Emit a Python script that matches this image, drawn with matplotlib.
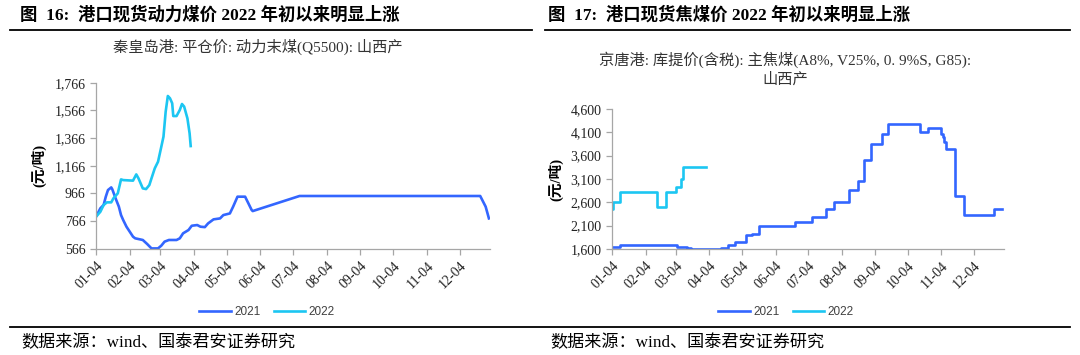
import matplotlib
matplotlib.use('Agg')
import matplotlib.pyplot as plt
import matplotlib.dates as mdates
from matplotlib.lines import Line2D
from matplotlib.ticker import FuncFormatter
import pandas as pd

plt.rcParams['font.family'] = ['Liberation Serif', 'Noto Sans CJK SC']

# 秦皇岛港 平仓价 动力末煤 Q5500 山西产 (元/吨)
qhd_dates_2021 = ['01-04', '01-08', '01-11', '01-13', '01-15', '01-18', '01-19', '01-22',
                  '01-25', '01-27', '01-29', '02-01', '02-04', '02-07', '02-09', '02-16',
                  '02-20', '02-24', '03-02', '03-05', '03-08', '03-12', '03-19', '03-22',
                  '03-25', '03-30', '04-02', '04-07', '04-10', '04-14', '04-17', '04-22',
                  '04-28', '05-01', '05-07', '05-10', '05-14', '05-21', '05-24', '05-27',
                  '05-28', '07-10', '12-23', '12-28', '12-31']
qhd_2021 = [797, 858, 882, 942, 990, 1009, 995, 930,
            870, 809, 773, 725, 689, 653, 641, 629,
            600, 568, 568, 588, 617, 629, 629, 641,
            677, 701, 732, 737, 725, 722, 749, 778,
            785, 809, 821, 870, 942, 942, 894, 846,
            838, 947, 947, 870, 785]
qhd_dates_2022 = ['01-04', '01-08', '01-11', '01-14', '01-18', '01-20', '01-24', '01-27',
                  '01-29', '02-07', '02-10', '02-12', '02-16', '02-19', '02-22', '02-24',
                  '02-27', '03-02', '03-05', '03-07', '03-09', '03-11', '03-13', '03-15',
                  '03-16', '03-19', '03-22', '03-24', '03-26', '03-29', '03-31', '04-01']
qhd_2022 = [797, 833, 882, 901, 901, 930, 966, 1067,
            1062, 1058, 1103, 1075, 1002, 997, 1026, 1075,
            1147, 1195, 1303, 1376, 1556, 1670, 1653, 1617,
            1525, 1525, 1569, 1612, 1593, 1508, 1400, 1308]

# 京唐港 库提价(含税) 主焦煤 山西产 (元/吨), 调价日
jt_dates_2021 = ['01-04', '01-11', '03-05', '03-14', '03-18', '04-15', '04-21', '04-28',
                 '05-08', '05-13', '05-20', '06-22', '07-08', '07-21', '07-28', '08-11',
                 '08-19', '08-25', '08-31', '09-10', '09-16', '10-15', '10-23', '11-04',
                 '11-06', '11-07', '11-08', '11-17', '11-25', '12-23', '12-30']
jt_2021 = [1650, 1680, 1650, 1630, 1600, 1630, 1690, 1740,
           1890, 1920, 2100, 2170, 2290, 2460, 2600, 2860,
           3060, 3500, 3860, 4060, 4270, 4100, 4200, 4060,
           4000, 3900, 3740, 2740, 2330, 2460, 2460]
jt_dates_2022 = ['01-04', '01-05', '01-11', '02-15', '02-23', '03-04', '03-09', '03-11', '04-01']
jt_2022 = [2450, 2600, 2830, 2500, 2830, 2930, 3100, 3350, 3350]

qhd_yticks = [566, 766, 966, 1166, 1366, 1566, 1766]
jt_yticks = [1600, 2100, 2600, 3100, 3600, 4100, 4600]
month_ticks = ['01-04', '02-04', '03-04', '04-04', '05-04', '06-04',
               '07-04', '08-04', '09-04', '10-04', '11-04', '12-04']

c21 = '#3366FF'
c22 = '#1CC6F2'
grey = '#A6A6A6'


def md(dates):
    # 两年都画在同一条月-日轴上
    return pd.to_datetime(['2021-' + d for d in dates])


def setup_axis(ax, yticks):
    for s in ['top', 'right']:
        ax.spines[s].set_visible(False)
    for s in ['left', 'bottom']:
        ax.spines[s].set_color(grey)
        ax.spines[s].set_linewidth(0.9)
    ax.set_xlim(pd.Timestamp('2021-01-04'), pd.Timestamp('2022-01-01'))
    ax.set_xticks(md(month_ticks))
    ax.xaxis.set_major_formatter(mdates.DateFormatter('%m-%d'))
    ax.set_ylim(yticks[0], yticks[-1])
    ax.set_yticks(yticks)
    ax.yaxis.set_major_formatter(FuncFormatter(lambda v, p: '{:,.0f}'.format(v)))
    ax.tick_params(axis='both', colors=grey, labelcolor='#222222', labelsize=10,
                   length=4, width=0.9, direction='out')
    for lab in ax.get_xticklabels():
        lab.set_rotation(45)
        lab.set_ha('right')
        lab.set_rotation_mode('anchor')


fig = plt.figure(figsize=(10.8, 3.55), dpi=100)

ax1 = fig.add_axes([96 / 1080, 1 - 248.7 / 355, 394 / 1080, 166 / 355])
l1, = ax1.plot(md(qhd_dates_2021), qhd_2021, color=c21, lw=1.9, label='2021')
l2, = ax1.plot(md(qhd_dates_2022), qhd_2022, color=c22, lw=1.9, label='2022')
setup_axis(ax1, qhd_yticks)
ax1.set_ylabel('(元/吨)', fontsize=10.5, fontweight='bold', labelpad=6)

ax2 = fig.add_axes([612 / 1080, 1 - 249 / 355, 392 / 1080, 140 / 355])
r1, = ax2.plot(md(jt_dates_2021), jt_2021, color=c21, lw=1.9, drawstyle='steps-post', label='2021')
r2, = ax2.plot(md(jt_dates_2022), jt_2022, color=c22, lw=1.9, drawstyle='steps-post', label='2022')
setup_axis(ax2, jt_yticks)
ax2.set_ylabel('(元/吨)', fontsize=10.5, fontweight='bold', labelpad=5)

# 标题
fig.text(20 / 1080, 1 - 15 / 355, '图  16:  港口现货动力煤价 2022 年初以来明显上涨',
         fontsize=12.5, fontweight='bold', va='center', ha='left')
fig.text(548 / 1080, 1 - 15 / 355, '图  17:  港口现货焦煤价 2022 年初以来明显上涨',
         fontsize=12.5, fontweight='bold', va='center', ha='left')
fig.add_artist(Line2D([10 / 1080, 532 / 1080], [1 - 30 / 355] * 2, color='black', lw=1.3))
fig.add_artist(Line2D([545 / 1080, 1070 / 1080], [1 - 30 / 355] * 2, color='black', lw=1.3))

fig.text(258 / 1080, 1 - 47 / 355, '秦皇岛港: 平仓价: 动力末煤(Q5500): 山西产',
         fontsize=11, va='center', ha='center', color='#333333')
fig.text(785 / 1080, 1 - 60 / 355, '京唐港: 库提价(含税): 主焦煤(A8%, V25%, 0. 9%S, G85):',
         fontsize=11, va='center', ha='center', color='#333333')
fig.text(785 / 1080, 1 - 80 / 355, '山西产',
         fontsize=11, va='center', ha='center', color='#333333')

# 图例
for handles, cx in [([l1, l2], 267), ([r1, r2], 786)]:
    fig.legend(handles=handles, labels=['2021', '2022'], loc='center',
               bbox_to_anchor=(cx / 1080, 1 - 312 / 355), ncol=2, frameon=False,
               handlelength=2.7, handletextpad=0.25, columnspacing=1.1,
               prop={'family': 'Liberation Sans', 'size': 8.5},
               labelcolor='#404040')

fig.add_artist(Line2D([10 / 1080, 1070 / 1080], [1 - 327 / 355] * 2, color='black', lw=1.3))
fig.text(21 / 1080, 1 - 343 / 355, '数据来源：wind、国泰君安证券研究', fontsize=12.3, va='center', ha='left')
fig.text(550 / 1080, 1 - 343 / 355, '数据来源：wind、国泰君安证券研究', fontsize=12.3, va='center', ha='left')

fig.savefig('out.png', dpi=100)
